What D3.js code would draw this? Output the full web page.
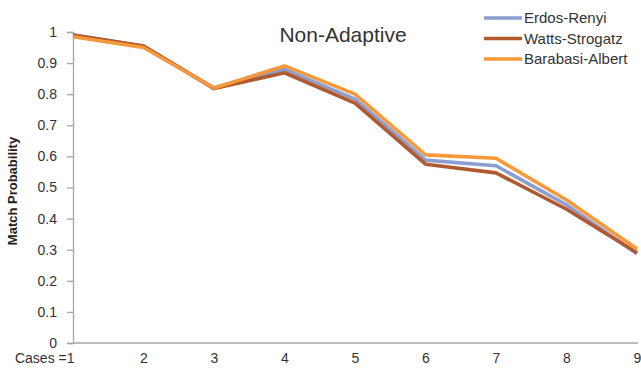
<!DOCTYPE html>
<html><head><meta charset="utf-8">
<script src="https://cdn.jsdelivr.net/npm/d3@7"></script>
<style>body{margin:0;background:#fff}svg{display:block}</style>
</head><body>
<svg id="c" width="641" height="372"></svg>
<script>
const cases = [1,2,3,4,5,6,7,8,9];
const xTickLabels = ["Cases =1","2","3","4","5","6","7","8","9"];
const yTicks = [0,0.1,0.2,0.3,0.4,0.5,0.6,0.7,0.8,0.9,1];
const seriesNames = ["Erdos-Renyi","Watts-Strogatz","Barabasi-Albert"];
const erdosRenyi   = [0.99,0.955,0.82,0.88,0.784,0.588,0.57,0.444,0.287];
const wattsStrogatz= [0.99,0.955,0.818,0.869,0.771,0.575,0.547,0.43,0.29];
const barabasiAlbert=[0.985,0.95,0.82,0.891,0.80,0.605,0.594,0.46,0.302];
const colors = ["#8C9DD0","#B15A30","#F7993A"];

const svg = d3.select("#c");
const font = "'Liberation Sans', Arial, sans-serif";
const x = d3.scalePoint().domain(cases).range([73,637]);
const y = d3.scaleLinear().domain([0,1]).range([343,32]);
const axisColor = "#a6a6a6";

// y axis
const ya = svg.append("g").attr("transform","translate(73,0)")
  .call(d3.axisLeft(y).tickValues(yTicks).tickSize(6).tickPadding(10).tickFormat(d=>d3.format("~g")(d)));
ya.select(".domain").attr("stroke",axisColor).attr("stroke-width",1.3);
ya.selectAll(".tick line").attr("stroke",axisColor).attr("stroke-width",1.3);
ya.selectAll(".tick text").attr("font-family",font).attr("font-size",14).attr("fill","#333");

// x axis
const xa = svg.append("g").attr("transform","translate(0,343)")
  .call(d3.axisBottom(x).tickSize(0).tickPadding(10).tickFormat((d,i)=>xTickLabels[i]));
xa.select(".domain").attr("stroke",axisColor).attr("stroke-width",1.3).attr("d","M73,0H638");
xa.selectAll(".tick text").attr("font-family",font).attr("font-size",14).attr("fill","#333")
  .attr("text-anchor",(d,i)=>i===0?"end":"middle").attr("dx",(d,i)=>i===0?1:0);

// y label
svg.append("text").attr("transform","translate(17,191) rotate(-90)")
  .attr("text-anchor","middle").attr("font-family",font).attr("font-weight","bold")
  .attr("font-size",13).attr("fill","#222").text("Match Probability");

// title
svg.append("text").attr("x",343).attr("y",42).attr("text-anchor","middle")
  .attr("font-family",font).attr("font-size",21).attr("fill","#333").text("Non-Adaptive");

// lines
const data = [erdosRenyi, wattsStrogatz, barabasiAlbert];
const line = d3.line().x((d,i)=>x(cases[i])).y(d=>y(d));
data.forEach((s,k)=>{
  svg.append("path").datum(s).attr("d",line).attr("fill","none")
    .attr("stroke",colors[k]).attr("stroke-width",3.6).attr("stroke-linejoin","round");
});

// legend
seriesNames.forEach((n,k)=>{
  const yy = 18 + k*20.5;
  svg.append("line").attr("x1",484).attr("x2",522).attr("y1",yy).attr("y2",yy)
    .attr("stroke",colors[k]).attr("stroke-width",3.6);
  svg.append("text").attr("x",524).attr("y",yy+5).attr("font-family",font)
    .attr("font-size",15).attr("fill","#333").text(n);
});
</script>
</body></html>
